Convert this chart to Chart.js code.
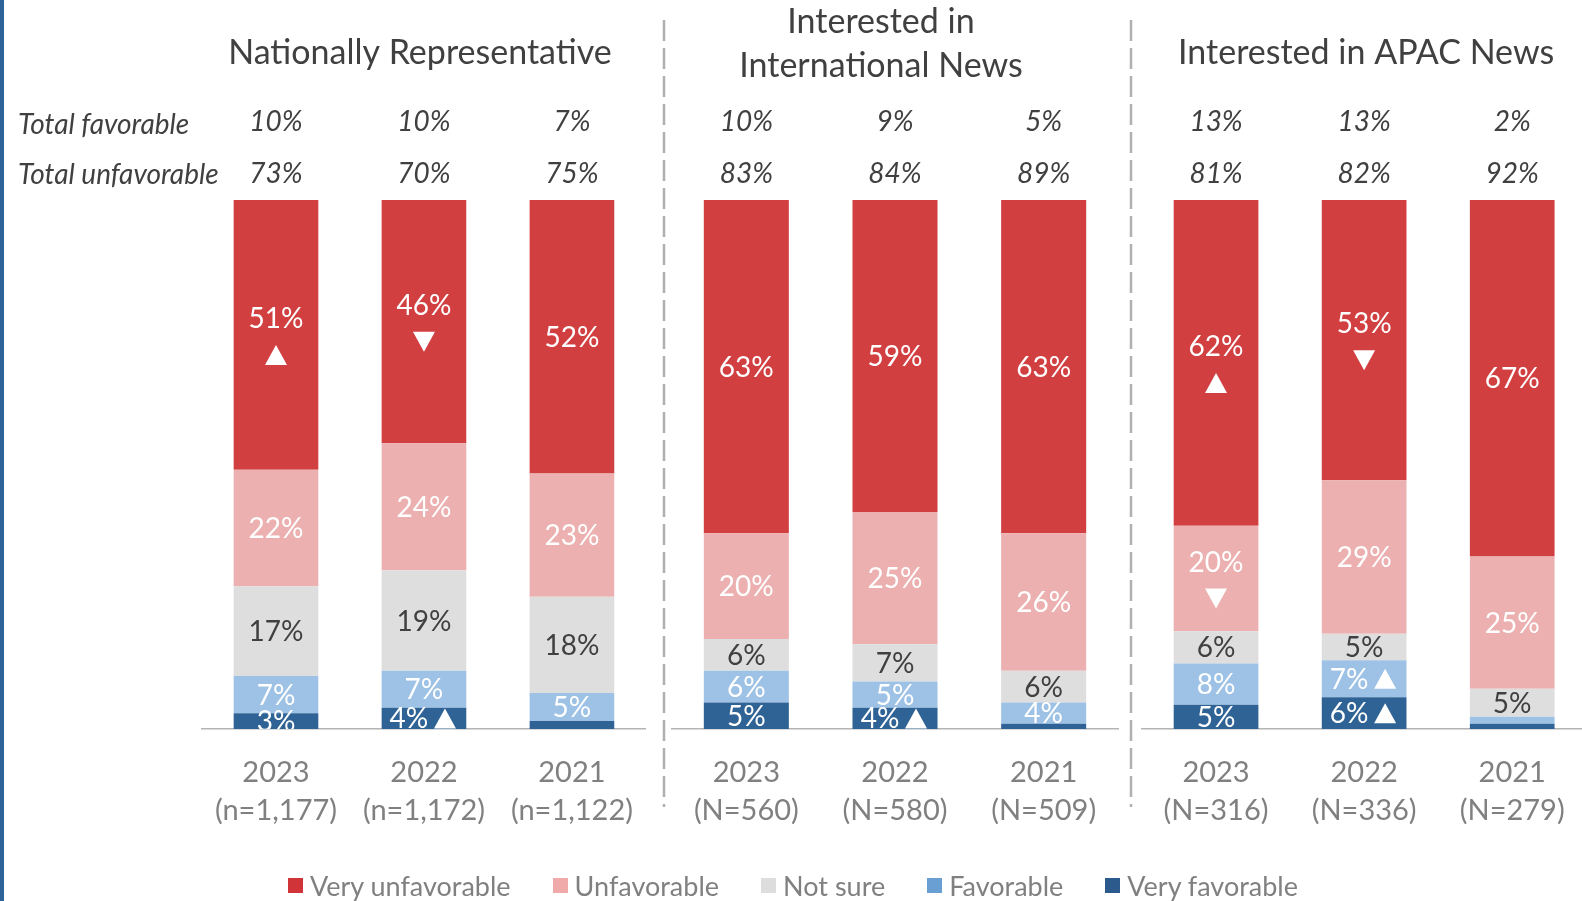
<!DOCTYPE html>
<html>
<head>
<meta charset="utf-8">
<script src="https://cdn.jsdelivr.net/npm/chart.js@4.4.1/dist/chart.umd.min.js"></script>
<style>
  html, body { margin: 0; padding: 0; background: #fff; overflow: hidden; }
  body { width: 1582px; height: 901px; position: relative; }
  .strip { position: absolute; left: 0; top: 0; width: 4px; height: 901px; background: #2E6399; }
  canvas { position: absolute; top: 0; }
  #legend { position: absolute; left: 0; top: 869px; width: 1586px; display: flex; justify-content: center;
            font-family: Lato, sans-serif; font-size: 27px; color: #808080; }
  #legend .item { display: flex; align-items: center; margin: 0 21px; }
  #legend .sw { width: 15px; height: 15px; margin-right: 7px; }
</style>
</head>
<body>
<div class="strip"></div>
<canvas id="c0" width="660" height="901" style="left:0px"></canvas>
<canvas id="c1" width="470" height="901" style="left:656px"></canvas>
<canvas id="c2" width="466" height="901" style="left:1124px"></canvas>
<div id="legend"></div>
<script>
// series, bottom to top
const series = ['Very favorable', 'Favorable', 'Not sure', 'Unfavorable', 'Very unfavorable'];
const barColors = ['#2F6395', '#9DC2E5', '#DEDEDE', '#ECB0B0', '#D23F41'];
const legendColors = ['#2C5A8C', '#6A9FD4', '#DDDDDD', '#F0AAAA', '#D13438'];
const labelColors = ['#FFFFFF', '#FFFFFF', '#404040', '#FFFFFF', '#FFFFFF'];

const groupTitles = [['Nationally Representative'], ['Interested in', 'International News'], ['Interested in APAC News']];
const years = ['2023', '2022', '2021'];
const sampleSizes = [
  ['(n=1,177)', '(n=1,172)', '(n=1,122)'],
  ['(N=560)', '(N=580)', '(N=509)'],
  ['(N=316)', '(N=336)', '(N=279)']
];

// one row per group, columns 2023, 2022, 2021
const veryFavorable   = [[3, 4, 1.5], [5, 4, 1], [4.6, 6, 1]];
const favorable       = [[7, 7, 5.3], [6, 5, 4], [7.8, 7, 1.3]];
const notSure         = [[17, 19, 18.2], [6, 7, 6], [6.1, 5, 5.3]];
const unfavorable     = [[22, 24, 23.3], [20, 25, 26], [19.9, 29, 25]];
const veryUnfavorable = [[51, 46, 51.7], [63, 59, 63], [61.6, 53, 67.4]];

const totalFavorable   = [[10, 10, 7], [10, 9, 5], [13, 13, 2]];
const totalUnfavorable = [[73, 70, 75], [83, 84, 89], [81, 82, 92]];

// significance arrows: 1 = up, -1 = down
const sigVeryFavorable   = [[0, 1, 0], [0, 1, 0], [0, 1, 0]];
const sigFavorable       = [[0, 0, 0], [0, 0, 0], [0, 1, 0]];
const sigNotSure         = [[0, 0, 0], [0, 0, 0], [0, 0, 0]];
const sigUnfavorable     = [[0, 0, 0], [0, 0, 0], [-1, 0, 0]];
const sigVeryUnfavorable = [[1, -1, 0], [0, 0, 0], [1, -1, 0]];

const values = [veryFavorable, favorable, notSure, unfavorable, veryUnfavorable];
const sigs = [sigVeryFavorable, sigFavorable, sigNotSure, sigUnfavorable, sigVeryUnfavorable];

const FONT = 'Lato, sans-serif';

// layout of the three panels
const panels = [
  { id: 'c0', padL: 202, padR: 12, sepX: null, titleShift: -4 },
  { id: 'c1', padL: 16, padR: 8, sepX: 8, titleShift: -14 },
  { id: 'c2', padL: 18, padR: 2, sepX: 7, titleShift: 2 }
];

function triangle(ctx, x, y, dir) {
  ctx.beginPath();
  if (dir > 0) {
    ctx.moveTo(x, y - 10); ctx.lineTo(x + 11, y + 10); ctx.lineTo(x - 11, y + 10);
  } else {
    ctx.moveTo(x, y + 10); ctx.lineTo(x + 11, y - 10); ctx.lineTo(x - 11, y - 10);
  }
  ctx.closePath();
  ctx.fillStyle = '#FFFFFF';
  ctx.fill();
}

const panelPlugin = {
  id: 'panelDeco',
  afterDatasetsDraw(chart, args, opts) {
    const { ctx, chartArea } = chart;
    const g = opts.group;
    const p = panels[g];

    // segment labels
    ctx.save();
    ctx.beginPath();
    ctx.rect(chartArea.left, chartArea.top, chartArea.right - chartArea.left, chartArea.bottom - chartArea.top);
    ctx.clip();
    ctx.font = '28px ' + FONT;
    ctx.textAlign = 'center';
    ctx.textBaseline = 'middle';
    chart.data.datasets.forEach((ds, di) => {
      chart.getDatasetMeta(di).data.forEach((bar, i) => {
        const v = ds.data[i];
        if (v < 3) return;
        const sig = ds.sig[i];
        const h = bar.base - bar.y;
        const cy = (bar.y + bar.base) / 2;
        let tx = bar.x, ty = cy, mx = 0, my = 0;
        if (sig) {
          if (h > 70) { ty = cy - 17; mx = bar.x; my = cy + 20; }
          else { tx = bar.x - 15; mx = bar.x + 21; my = cy; }
        }
        ctx.fillStyle = ds.labelColor;
        ctx.fillText(Math.round(v) + '%', tx, ty + 1);
        if (sig) triangle(ctx, mx, my, sig);
      });
    });
    ctx.restore();

    // totals rows
    ctx.save();
    ctx.fillStyle = '#404040';
    ctx.font = 'italic 28px ' + FONT;
    ctx.textAlign = 'center';
    ctx.textBaseline = 'middle';
    chart.getDatasetMeta(0).data.forEach((bar, i) => {
      ctx.fillText(totalFavorable[g][i] + '%', bar.x, 122);
      ctx.fillText(totalUnfavorable[g][i] + '%', bar.x, 174);
    });
    if (g === 0) {
      ctx.textAlign = 'left';
      ctx.fillText('Total favorable', 18, 125);
      ctx.fillText('Total unfavorable', 18, 175);
    }

    // group title
    ctx.font = '34px ' + FONT;
    ctx.textAlign = 'center';
    const lines = groupTitles[g];
    const cx = (chartArea.left + chartArea.right) / 2 + p.titleShift;
    if (lines.length === 1) {
      ctx.fillText(lines[0], cx, 53);
    } else {
      ctx.fillText(lines[0], cx, 22);
      ctx.fillText(lines[1], cx, 66);
    }

    // dashed separator
    if (p.sepX !== null) {
      ctx.strokeStyle = '#B0B0B0';
      ctx.lineWidth = 2.5;
      ctx.setLineDash([21, 7]);
      ctx.beginPath();
      ctx.moveTo(p.sepX, 20);
      ctx.lineTo(p.sepX, 807);
      ctx.stroke();
    }
    ctx.restore();
  }
};

panels.forEach((p, g) => {
  new Chart(document.getElementById(p.id), {
    type: 'bar',
    data: {
      labels: years.map((y, i) => [y, sampleSizes[g][i]]),
      datasets: series.map((name, si) => ({
        label: name,
        data: values[si][g],
        sig: sigs[si][g],
        labelColor: labelColors[si],
        backgroundColor: barColors[si],
        borderWidth: 0,
        barPercentage: 0.572,
        categoryPercentage: 1
      }))
    },
    plugins: [panelPlugin],
    options: {
      responsive: false,
      animation: false,
      layout: { padding: { left: p.padL, right: p.padR, top: 200, bottom: 72 } },
      plugins: {
        legend: { display: false },
        tooltip: { enabled: false },
        panelDeco: { group: g }
      },
      scales: {
        x: {
          stacked: true,
          grid: { display: false, drawTicks: false },
          border: { display: true, color: '#B4B4B4', width: 1.5 },
          ticks: { color: '#808080', font: { family: FONT, size: 29, lineHeight: 1.3 }, padding: 25, maxRotation: 0 },
          afterFit: (s) => { s.height = 100; }
        },
        y: { stacked: true, display: false, min: 0, max: 100 }
      }
    }
  });
});

// legend, top series first
const legend = document.getElementById('legend');
series.slice().reverse().forEach((name, k) => {
  const si = series.length - 1 - k;
  const item = document.createElement('div');
  item.className = 'item';
  item.innerHTML = '<span class="sw" style="background:' + legendColors[si] + '"></span><span>' + name + '</span>';
  legend.appendChild(item);
});
</script>
</body>
</html>
